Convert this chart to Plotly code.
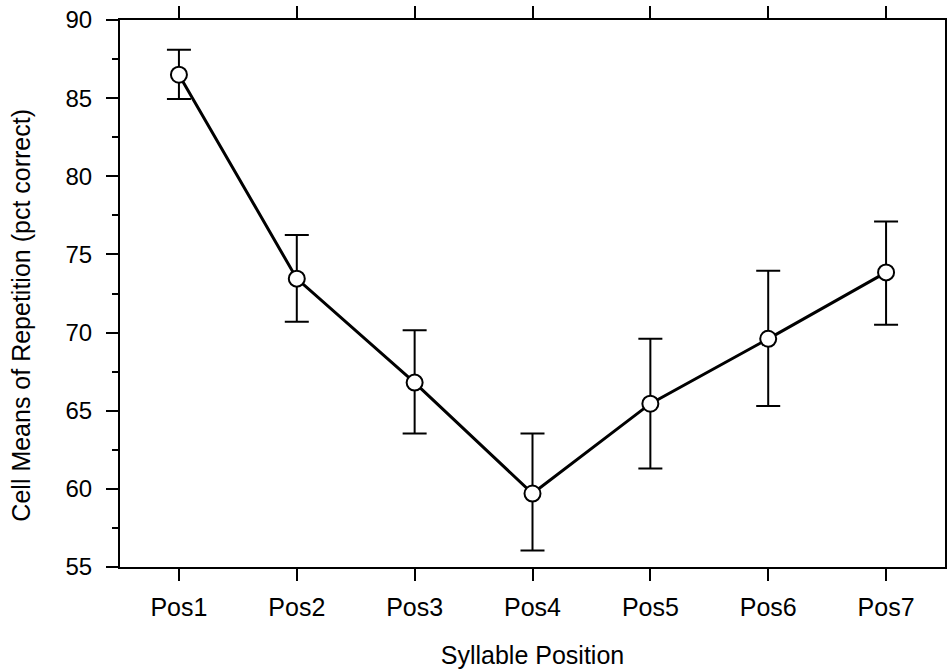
import plotly.graph_objects as go

categories = ["Pos1", "Pos2", "Pos3", "Pos4", "Pos5", "Pos6", "Pos7"]
means = [86.5, 73.45, 66.8, 59.7, 65.45, 69.6, 73.85]
upper = [88.1, 76.25, 70.15, 63.55, 69.6, 73.95, 77.1]
lower = [84.95, 70.7, 63.55, 56.05, 61.3, 65.3, 70.5]
y_ticks = [55, 60, 65, 70, 75, 80, 85, 90]

err_plus = [u - m for u, m in zip(upper, means)]
err_minus = [m - l for m, l in zip(means, lower)]

FONT = "Liberation Sans, Arial, sans-serif"

fig = go.Figure()
fig.add_trace(go.Scatter(
    x=list(range(len(categories))), y=means,
    mode="lines+markers",
    line=dict(color="black", width=3),
    marker=dict(symbol="circle", size=16, color="white", line=dict(color="black", width=2)),
    error_y=dict(type="data", symmetric=False, array=err_plus, arrayminus=err_minus,
                 color="black", thickness=2, width=12),
    showlegend=False,
))

fig.update_layout(
    width=949, height=669,
    margin=dict(l=120, r=2, t=20, b=102),
    paper_bgcolor="white", plot_bgcolor="white",
    font=dict(family=FONT, size=25, color="black"),
    xaxis=dict(
        range=[-0.5, 6.5],
        tickmode="array", tickvals=list(range(len(categories))), ticktext=categories,
        ticks="outside", ticklen=12, tickwidth=2, tickcolor="black",
        showline=True, linewidth=2, linecolor="black", mirror="ticks",
        showgrid=False, zeroline=False,
        tickfont=dict(size=25), ticklabelstandoff=5,
        title=dict(text="Syllable Position", font=dict(size=25), standoff=26),
    ),
    yaxis=dict(
        range=[55, 90],
        tickmode="array", tickvals=y_ticks, ticktext=[str(v) for v in y_ticks],
        ticks="outside", ticklen=12, tickwidth=2, tickcolor="black",
        minor=dict(dtick=2.5, tick0=55, ticks="outside", ticklen=6, tickwidth=2, tickcolor="black", showgrid=False),
        showline=True, linewidth=2, linecolor="black", mirror=True,
        showgrid=False, zeroline=False,
        tickfont=dict(size=24), ticklabelstandoff=9,
    ),
    annotations=[dict(
        text="Cell Means of Repetition (pct correct)",
        xref="paper", yref="paper", x=-0.1197, y=0.46,
        xanchor="center", yanchor="middle", textangle=-90,
        showarrow=False, font=dict(size=25, family=FONT, color="black"),
    )],
)

fig.write_html("out.html")
